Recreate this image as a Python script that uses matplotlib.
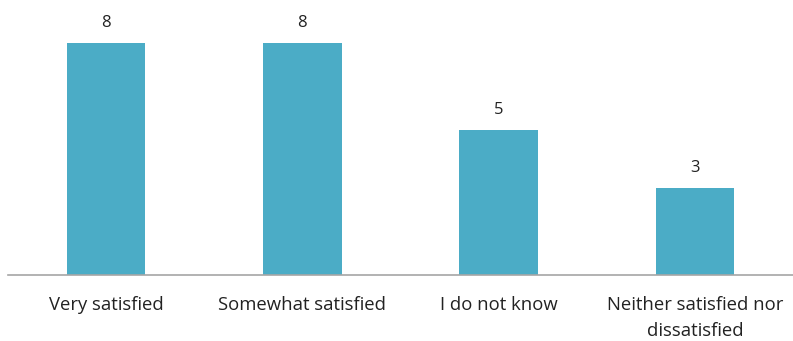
import matplotlib.pyplot as plt

categories = ['Very satisfied', 'Somewhat satisfied', 'I do not know',
              'Neither satisfied nor\ndissatisfied']
counts = [8, 8, 5, 3]

plt.rcParams['font.family'] = ['Open Sans', 'DejaVu Sans']

fig = plt.figure(figsize=(7.93, 3.41), dpi=100)
ax = fig.add_axes([8 / 793, 66 / 341, 785 / 793, 275 / 341])

x = range(len(categories))
bars = ax.bar(x, counts, width=0.4, color='#4BACC6')

for bar, value in zip(bars, counts):
    ax.annotate(str(value), (bar.get_x() + bar.get_width() / 2, value),
                xytext=(0, 9), textcoords='offset points',
                ha='center', va='bottom', fontsize=12, color='#222222')

ax.set_xlim(-0.5, len(categories) - 0.5)
ax.set_ylim(0, 9.5)
ax.set_xticks(list(x))
ax.set_xticklabels(categories, fontsize=13.3, color='#222222', linespacing=1.55)
ax.tick_params(axis='x', length=0, pad=15)
ax.set_yticks([])

for side in ['top', 'right', 'left']:
    ax.spines[side].set_visible(False)
ax.spines['bottom'].set_color('#A6A6A6')
ax.spines['bottom'].set_linewidth(1.2)

fig.savefig('out.png', dpi=100)
